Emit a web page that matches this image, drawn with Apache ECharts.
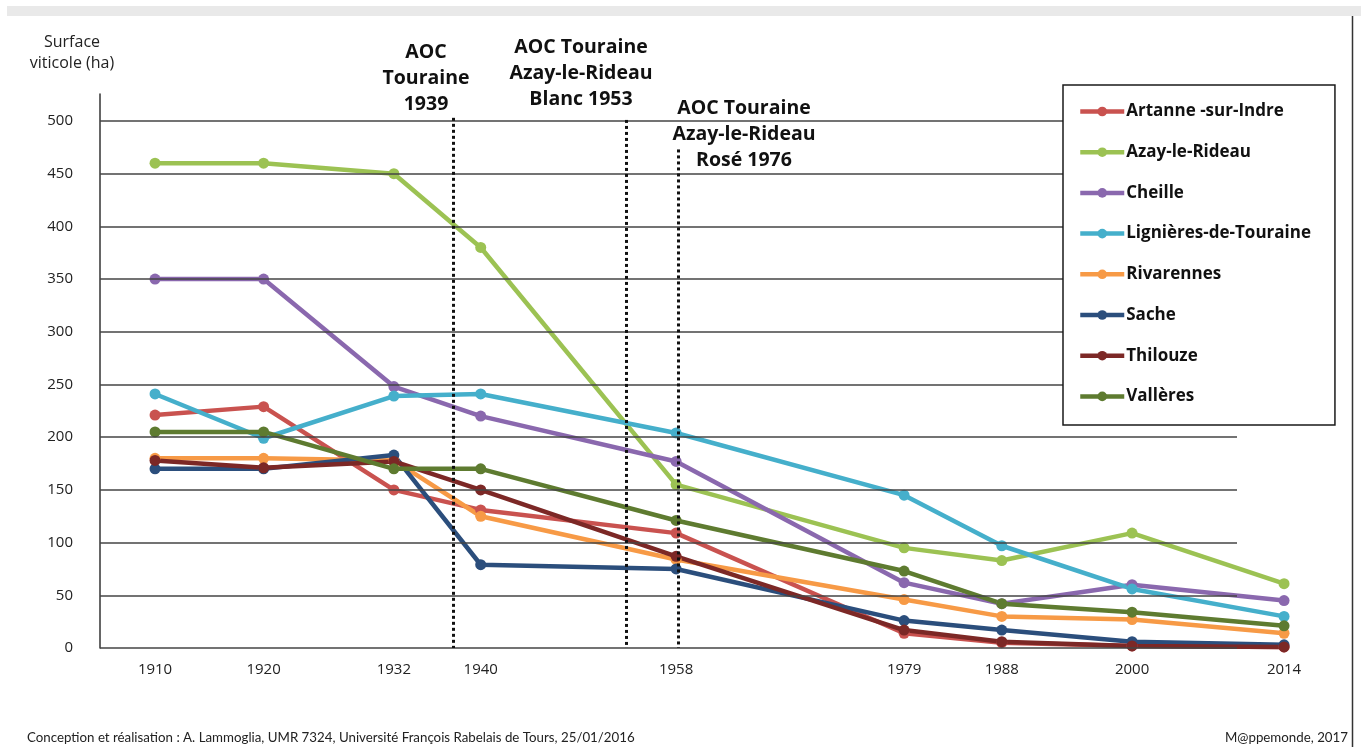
<!DOCTYPE html>
<html>
<head>
<meta charset="utf-8">
<script src="https://cdn.jsdelivr.net/npm/echarts@6/dist/echarts.min.js"></script>
<style>
  html, body { margin: 0; padding: 0; background: #fff; }
  #chart { width: 1361px; height: 747px; }
</style>
</head>
<body>
<div id="chart"></div>
<script>
// ---- Data ----
const years = [1910, 1920, 1932, 1940, 1958, 1979, 1988, 2000, 2014];
const seriesNames = ['Artanne -sur-Indre', 'Azay-le-Rideau', 'Cheille', 'Lignières-de-Touraine',
                     'Rivarennes', 'Sache', 'Thilouze', 'Vallères'];
const artanne    = [221, 229, 150, 131, 109, 14, 5, 2, 1];
const azay       = [460, 460, 450, 380, 155, 95, 83, 109, 61];
const cheille    = [350, 350, 248, 220, 177, 62, 42, 60, 45];
const lignieres  = [241, 199, 239, 241, 204, 145, 97, 56, 30];
const rivarennes = [180, 180, 178, 125, 84, 46, 30, 27, 14];
const sache      = [170, 170, 183, 79, 75, 26, 17, 6, 3];
const thilouze   = [178, 171, 177, 150, 87, 17, 6, 2, 1];
const valleres   = [205, 205, 170, 170, 121, 73, 42, 34, 21];
const seriesValues = [artanne, azay, cheille, lignieres, rivarennes, sache, thilouze, valleres];
const yTickValues = [0, 50, 100, 150, 200, 250, 300, 350, 400, 450, 500];
const annotationTexts = ['AOC\nTouraine\n1939', 'AOC Touraine\nAzay-le-Rideau\nBlanc 1953', 'AOC Touraine\nAzay-le-Rideau\nRosé 1976'];
const yAxisTitle = 'Surface\nviticole (ha)';
const creditLeft = 'Conception et réalisation : A. Lammoglia, UMR 7324, Université François Rabelais de Tours, 25/01/2016';
const creditRight = 'M@ppemonde, 2017';

// ---- Styling / layout ----
const colors = ['#C9524F', '#9CC253', '#8A68AE', '#45AFCB', '#F79A46', '#2B4E7C', '#7C2826', '#5E7B30'];
const X_MIN = 1904.93, X_MAX = 2015.47;      // axis extent (grid spans 100..1300 px)
const GRID_END = 2009.67;                     // where the horizontal rules stop
const annotLineX = [1937.45, 1953.4, 1958.2]; // positions of the dotted rules on the x scale
const annotLineTop = [503, 501, 473];
const FONT = '"Open Sans", "Noto Sans", sans-serif';

const chart = echarts.init(document.getElementById('chart'), null, { renderer: 'canvas' });

const lineSeries = seriesNames.map((name, i) => ({
  type: 'line',
  name: name,
  data: years.map((y, j) => [y, seriesValues[i][j]]),
  symbol: 'circle',
  symbolSize: 11,
  showAllSymbol: true,
  clip: false,
  z: 3,
  itemStyle: { color: colors[i] },
  lineStyle: { color: colors[i], width: 4.5 },
  emphasis: { disabled: true },
  animation: false
}));

const gridRules = {
  type: 'line',
  name: '__grid',
  data: [],
  z: 1,
  silent: true,
  animation: false,
  markLine: {
    silent: true,
    animation: false,
    symbol: ['none', 'none'],
    label: { show: false },
    lineStyle: { color: '#444', width: 1.5, type: 'solid' },
    emphasis: { disabled: true },
    data: yTickValues.map(v => [{ coord: [X_MIN, v] }, { coord: [GRID_END, v] }])
  }
};

const dottedRules = {
  type: 'line',
  name: '__annot',
  data: [],
  z: 5,
  silent: true,
  animation: false,
  markLine: {
    silent: true,
    animation: false,
    symbol: ['none', 'none'],
    label: { show: false },
    lineStyle: { color: '#111', width: 3, type: [3, 3] },
    emphasis: { disabled: true },
    data: annotLineX.map((x, k) => [{ coord: [x, annotLineTop[k]] }, { coord: [x, 0] }])
  }
};

const option = {
  backgroundColor: '#ffffff',
  animation: false,
  grid: { left: 100, right: 61, top: 94, bottom: 99, containLabel: false },
  xAxis: {
    type: 'value',
    min: X_MIN,
    max: X_MAX,
    axisLine: { show: false },
    axisTick: { show: false },
    splitLine: { show: false },
    axisLabel: {
      customValues: years,
      color: '#222',
      fontFamily: FONT,
      fontSize: 15,
      margin: 14,
      formatter: v => String(Math.round(v))
    }
  },
  yAxis: {
    type: 'value',
    min: 0,
    max: 525.6,
    interval: 50,
    axisLine: { show: true, lineStyle: { color: '#333', width: 1.5 } },
    axisTick: { show: false },
    splitLine: { show: false },
    axisLabel: {
      color: '#222',
      fontFamily: FONT,
      fontSize: 15,
      margin: 27,
      formatter: v => (Math.abs(v % 50) < 1e-6 ? String(v) : '')
    }
  },
  legend: {
    data: seriesNames,
    orient: 'vertical',
    left: 1063,
    top: 85,
    padding: [18, 24, 20, 15],
    itemGap: 23.7,
    itemWidth: 44,
    itemHeight: 12,
    backgroundColor: '#ffffff',
    borderColor: '#1a1a1a',
    borderWidth: 1.5,
    borderRadius: 0,
    selectedMode: false,
    textStyle: { color: '#111', fontWeight: 'bold', fontFamily: FONT, fontSize: 17, padding: [0, 0, 0, -3] },
    lineStyle: { width: 4.5 },
    z: 10
  },
  graphic: [
    { type: 'rect', shape: { x: 7, y: 6, width: 1354, height: 10 }, style: { fill: '#e9e9e9' }, silent: true },
    { type: 'line', shape: { x1: 1352.5, y1: 16, x2: 1352.5, y2: 747 }, style: { stroke: '#333', lineWidth: 1.5 }, silent: true },
    { type: 'text', x: 72, y: 32, silent: true,
      style: { text: yAxisTitle, textAlign: 'center', textVerticalAlign: 'top', lineHeight: 21,
               fontFamily: FONT, fontSize: 16, fill: '#222' } },
    { type: 'text', x: 426, y: 39, silent: true,
      style: { text: annotationTexts[0], textAlign: 'center', textVerticalAlign: 'top', lineHeight: 26,
               fontFamily: FONT, fontWeight: 'bold', fontSize: 19.5, fill: '#111' } },
    { type: 'text', x: 581, y: 34, silent: true,
      style: { text: annotationTexts[1], textAlign: 'center', textVerticalAlign: 'top', lineHeight: 26,
               fontFamily: FONT, fontWeight: 'bold', fontSize: 19.5, fill: '#111' } },
    { type: 'text', x: 744, y: 95, silent: true,
      style: { text: annotationTexts[2], textAlign: 'center', textVerticalAlign: 'top', lineHeight: 26,
               fontFamily: FONT, fontWeight: 'bold', fontSize: 19.5, fill: '#111' } },
    { type: 'text', x: 27, y: 738, silent: true,
      style: { text: creditLeft, textAlign: 'left', textVerticalAlign: 'middle',
               fontFamily: 'Lato, "Open Sans", sans-serif', fontSize: 13.3, fill: '#222' } },
    { type: 'text', x: 1348, y: 738, silent: true,
      style: { text: creditRight, textAlign: 'right', textVerticalAlign: 'middle',
               fontFamily: 'Lato, "Open Sans", sans-serif', fontSize: 13.3, fill: '#222' } }
  ],
  series: [gridRules].concat(lineSeries, [dottedRules])
};

chart.setOption(option);
</script>
</body>
</html>
